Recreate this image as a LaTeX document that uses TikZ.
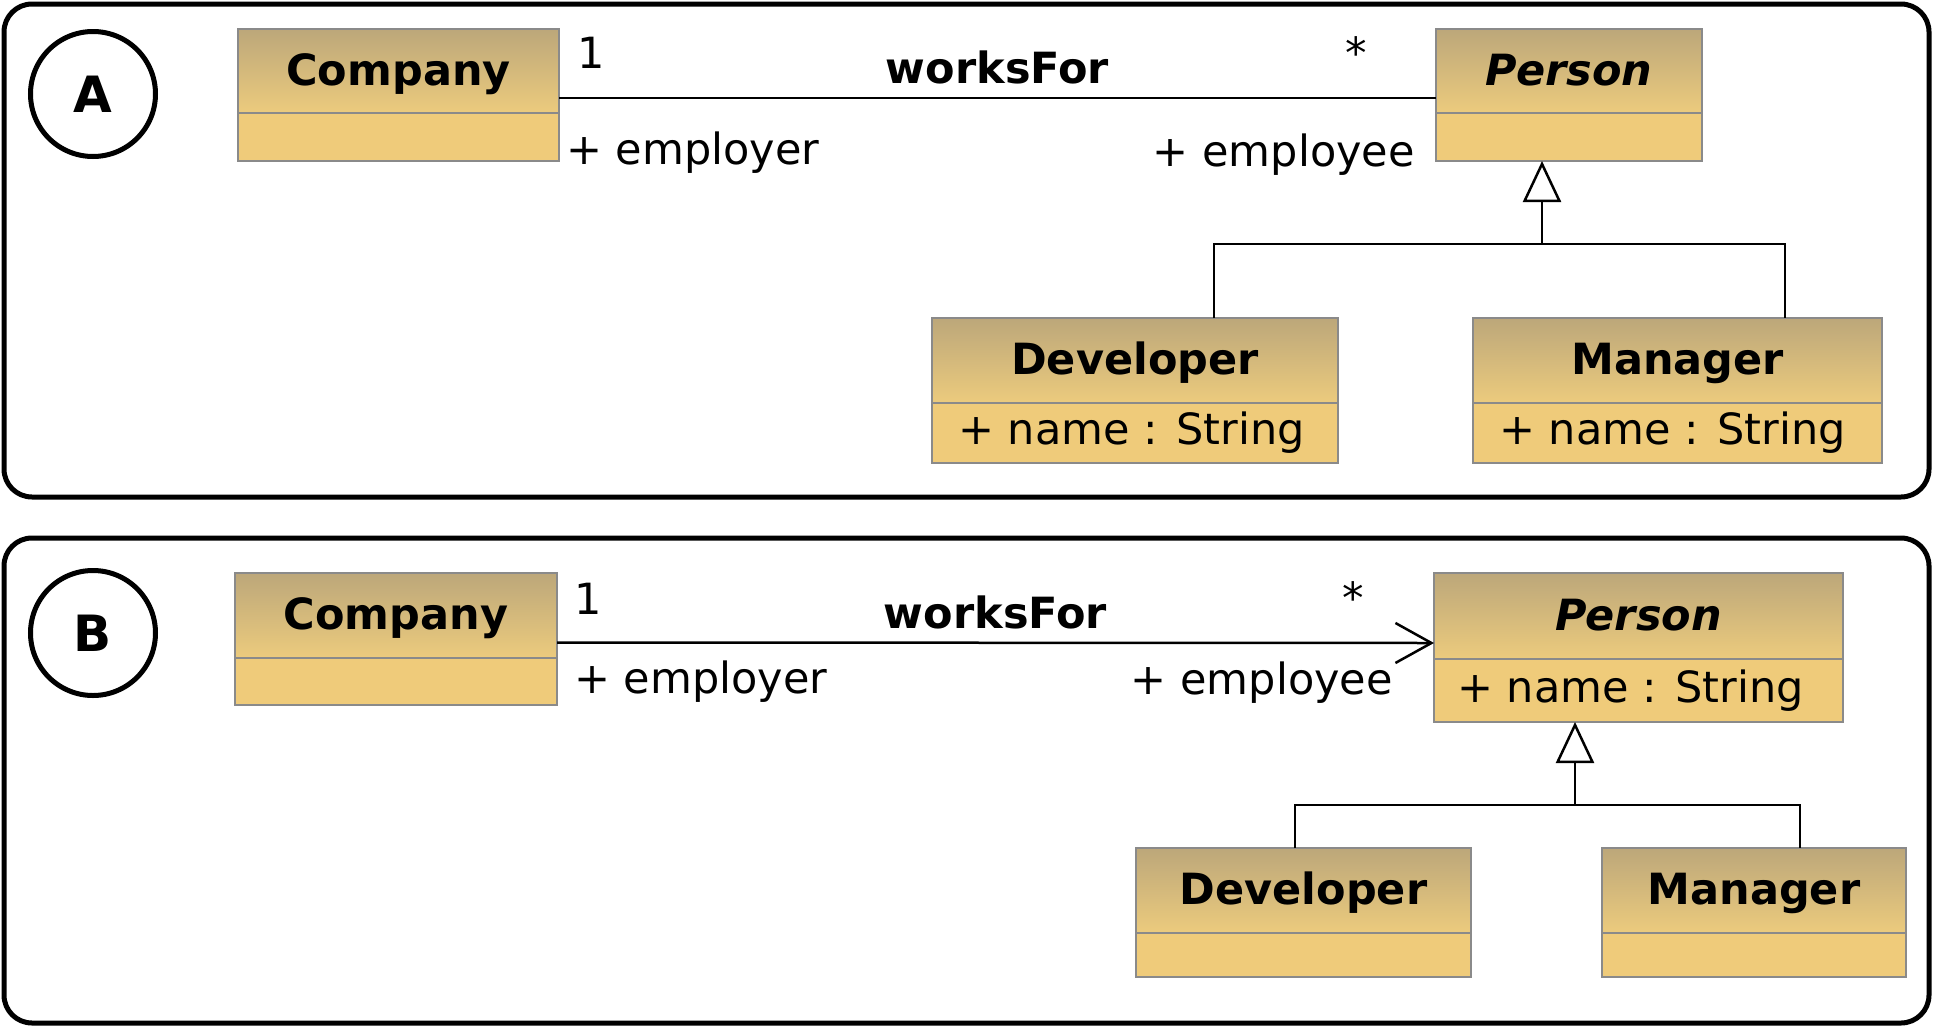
\documentclass[tikz,border=0pt]{standalone}
\usepackage{fontspec}
\setmainfont{DejaVu Sans}
\usetikzlibrary{arrows.meta,positioning}

\definecolor{headtop}{RGB}{188,167,122}
\definecolor{headbot}{RGB}{236,203,125}
\definecolor{bodyfill}{RGB}{239,203,122}
\definecolor{boxgray}{RGB}{138,138,138}

\newcommand{\umlsize}{\fontsize{43pt}{50pt}\selectfont}

\tikzset{
  panel/.style={draw=black, line width=5pt, rounded corners=28pt},
  tag/.style={draw=black, line width=5pt, circle, minimum size=125pt, inner sep=0pt, font=\fontsize{50pt}{58pt}\selectfont\bfseries},
  classhead/.style={draw=boxgray, line width=2pt, top color=headtop, bottom color=headbot, inner sep=0pt, outer sep=0pt, text height=33pt, text depth=5pt, font=\umlsize\bfseries},
  classbody/.style={draw=boxgray, line width=2pt, fill=bodyfill, inner sep=0pt, outer sep=0pt},
  attr/.style={inner sep=0pt, font=\umlsize},
  role/.style={inner sep=0pt, font=\umlsize},
  assoc/.style={line width=2.5pt},
  inherit/.style={line width=2.5pt, -{Triangle[open, length=41pt, width=38pt]}},
}

\begin{document}
\begin{tikzpicture}[x=1pt, y=-1pt]
\useasboundingbox (0,0) rectangle (1935,1028);

% panel A
\draw[panel] (4,4) rectangle (1929,497);
\node[tag] (tagA) at (93,94) {A};

\node[classhead, minimum width=321pt, minimum height=84pt] (compA) at (398.5,71) {Company};
\node[classbody, minimum width=321pt, minimum height=48pt, below=0pt of compA] (compAbody) {};
\node[classhead, minimum width=266pt, minimum height=84pt, font=\umlsize\bfseries\itshape] (persA) at (1569,71) {Person};
\node[classbody, minimum width=266pt, minimum height=48pt, below=0pt of persA] (persAbody) {};
\node[classhead, minimum width=406pt, minimum height=85pt] (devA) at (1135,360.5) {Developer};
\node[classbody, minimum width=406pt, minimum height=60pt, below=0pt of devA] (devAbody) {};
\node[attr, right=26pt of devAbody.west] (devAattr) {+ name : String};
\node[classhead, minimum width=409pt, minimum height=85pt] (manA) at (1677.5,360.5) {Manager};
\node[classbody, minimum width=409pt, minimum height=60pt, below=0pt of manA] (manAbody) {};
\node[attr, right=26pt of manAbody.west] (manAattr) {+ name : String};

\draw[assoc] ([yshift=-27pt]compA.east) -- ([yshift=-27pt]persA.west);
\node[role, anchor=base west] (multCA) at (577,68) {1};
\node[role, anchor=base] (multPA) at (1356,68) {*};
\node[role, anchor=base, font=\umlsize\bfseries] (assocA) at (997.5,83) {worksFor};
\node[role, anchor=base west] (roleCA) at (566,164) {+ employer};
\node[role, anchor=base east] (rolePA) at (1415,166) {+ employee};

\coordinate (splitA) at (1542,244);
\draw[assoc] ([xshift=79pt]devA.north) |- (splitA) -| ([xshift=107.5pt]manA.north);
\draw[inherit] (splitA) -- (splitA |- persAbody.south);

% panel B
\draw[panel] (4,538) rectangle (1929,1023);
\node[tag] (tagB) at (93,633) {B};

\node[classhead, minimum width=322pt, minimum height=85pt] (compB) at (396,615.5) {Company};
\node[classbody, minimum width=322pt, minimum height=47pt, below=0pt of compB] (compBbody) {};
\node[classhead, minimum width=409pt, minimum height=86pt, font=\umlsize\bfseries\itshape] (persB) at (1638.5,616) {Person};
\node[classbody, minimum width=409pt, minimum height=63pt, below=0pt of persB] (persBbody) {};
\node[attr, right=23pt of persBbody.west] (persBattr) {+ name : String};
\node[classhead, minimum width=335pt, minimum height=85pt] (devB) at (1303.5,890.5) {Developer};
\node[classbody, minimum width=335pt, minimum height=44pt, below=0pt of devB] (devBbody) {};
\node[classhead, minimum width=304pt, minimum height=85pt] (manB) at (1754,890.5) {Manager};
\node[classbody, minimum width=304pt, minimum height=44pt, below=0pt of manB] (manBbody) {};

\draw[assoc, -{Straight Barb[length=36pt, width=40pt]}] ([yshift=-27pt]compB.east) -- ([yshift=-27pt]persB.west);
\node[role, anchor=base west] (multCB) at (574,614) {1};
\node[role, anchor=base] (multPB) at (1353,613) {*};
\node[role, anchor=base, font=\umlsize\bfseries] (assocB) at (995.5,628) {worksFor};
\node[role, anchor=base west] (roleCB) at (574,693) {+ employer};
\node[role, anchor=base east] (rolePB) at (1393,694) {+ employee};

\coordinate (splitB) at (1575,805);
\draw[assoc] ([xshift=-8.5pt]devB.north) |- (splitB) -| ([xshift=46pt]manB.north);
\draw[inherit] (splitB) -- (splitB |- persBbody.south);
\end{tikzpicture}
\end{document}
